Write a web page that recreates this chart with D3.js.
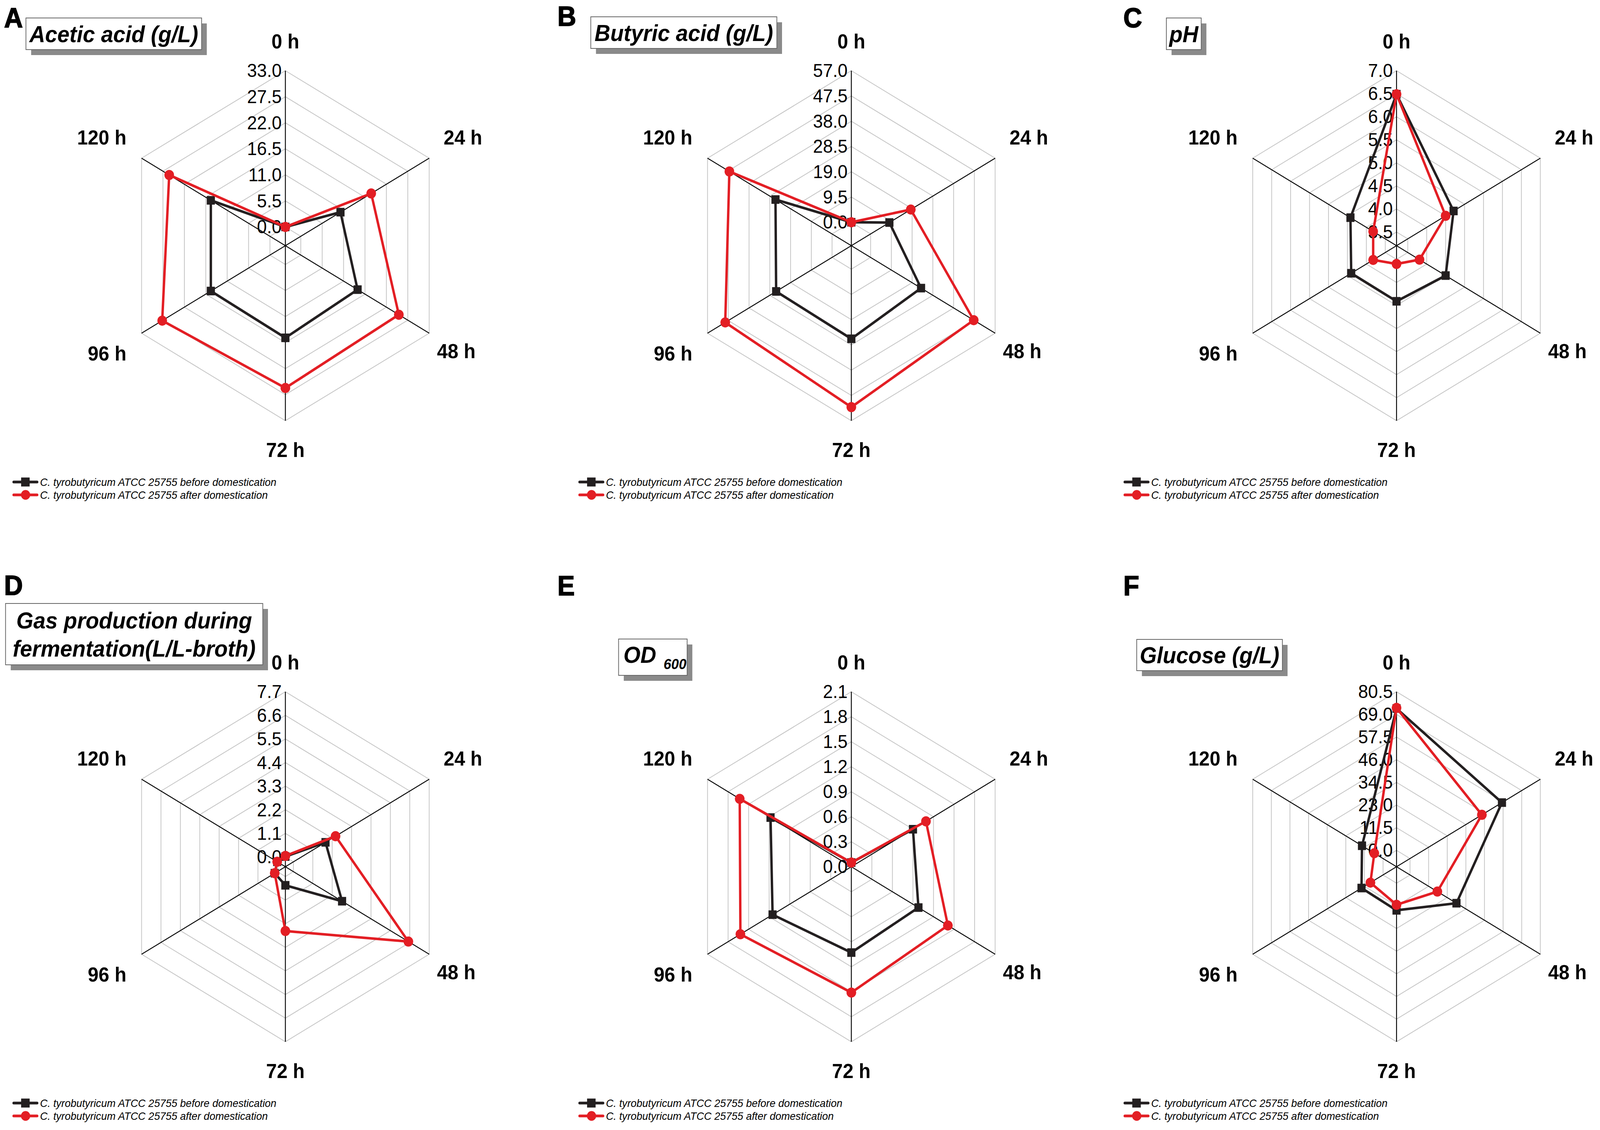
<!DOCTYPE html>
<html>
<head>
<meta charset="utf-8">
<script src="https://cdn.jsdelivr.net/npm/d3@7"></script>
<style>
  html, body { margin: 0; padding: 0; width: 100%; height: 100%; overflow: hidden; background: #fff; }
  svg { display: block; }
  text { font-family: "Liberation Sans", Arial, sans-serif; fill: #000; }
</style>
</head>
<body>
<svg id="fig" viewBox="0 0 4317 2893" preserveAspectRatio="none" width="100%" height="100%"></svg>
<script>
// axes of every radar
var hours = ["0 h", "24 h", "48 h", "72 h", "96 h", "120 h"];
var seriesNames = [
  "C. tyrobutyricum ATCC 25755 before domestication",
  "C. tyrobutyricum ATCC 25755 after domestication"
];

// values
var aceticBefore = [0, 10.2, 14.6, 15.5, 15.2, 15.2];
var aceticAfter = [0, 18.1, 25.2, 26.1, 27.7, 25.9];
var butyricBefore = [0, 8.6, 23.1, 26.2, 25.6, 25.9];
var butyricAfter = [0, 18.4, 47.2, 51.9, 48.9, 47.0];
var phBefore = [6.49, 4.71, 4.50, 4.41, 4.40, 4.42];
var phAfter = [6.49, 4.50, 3.81, 3.60, 3.82, 3.82];
var gasBefore = [0.02, 1.82, 2.76, 0.41, 0.15, 0.01];
var gasAfter = [0.05, 2.39, 6.52, 2.54, 0.15, 0.01];
var odBefore = [0.05, 0.90, 0.98, 1.03, 1.15, 1.18];
var odAfter = [0.05, 1.09, 1.41, 1.51, 1.62, 1.63];
var glucoseBefore = [72.0, 56.8, 28.7, 13.8, 13.3, 13.0];
var glucoseAfter = [72.3, 44.4, 16.9, 11.0, 7.8, 5.4];

// radial tick labels
var aceticTicks = [0, 5.5, 11, 16.5, 22, 27.5, 33];
var butyricTicks = [0, 9.5, 19, 28.5, 38, 47.5, 57];
var phTicks = [3.5, 4, 4.5, 5, 5.5, 6, 6.5, 7];
var gasTicks = [0, 1.1, 2.2, 3.3, 4.4, 5.5, 6.6, 7.7];
var odTicks = [0, 0.3, 0.6, 0.9, 1.2, 1.5, 1.8, 2.1];
var glucoseTicks = [0, 11.5, 23, 34.5, 46, 57.5, 69, 80.5];

var BLACK = "#231f20", RED = "#e31e24";
var R = 448;

var panels = [
  {letter: "A", title: ["Acetic acid (g/L)"], ticks: aceticTicks, before: aceticBefore, after: aceticAfter,
   cx: 770, cy: 629, inner: 48, box: [-700, -583, 474, 81], lp: [-759, -559]},
  {letter: "B", title: ["Butyric acid (g/L)"], ticks: butyricTicks, before: butyricBefore, after: butyricAfter,
   cx: 2297, cy: 629, inner: 60, box: [-703, -586, 502, 81], lp: [-793, -563]},
  {letter: "C", title: ["pH"], ticks: phTicks, before: phBefore, after: phAfter,
   cx: 3768, cy: 629, inner: 35, box: [-621, -583, 94, 81], lp: [-737, -559]},
  {letter: "D", title: ["Gas production during", "fermentation(L/L-broth)"], ticks: gasTicks, before: gasBefore, after: gasAfter,
   cx: 770, cy: 2219, inner: 25, box: [-755, -674, 694, 157], lp: [-759, -696]},
  {letter: "E", title: null, ticks: odTicks, before: odBefore, after: odAfter,
   cx: 2297, cy: 2219, inner: 0, box: [-628, -583, 185, 93], lp: [-793, -695]},
  {letter: "F", title: ["Glucose (g/L)"], ticks: glucoseTicks, before: glucoseBefore, after: glucoseAfter,
   cx: 3768, cy: 2219, inner: 42, box: [-701, -582, 393, 80], lp: [-737, -695]}
];

// where the hour labels sit around each radar
var labelPos = [[0, -523, "middle"], [427, -277, "start"], [409, 270, "start"],
                [0, 523, "middle"], [-429, 276, "end"], [-429, -277, "end"]];

var svg = d3.select("#fig");
svg.append("rect").attr("width", 4317).attr("height", 2893).attr("fill", "#fff");

var angle = d3.scaleLinear().domain([0, hours.length]).range([0, 2 * Math.PI]);

function drawPanel(p) {
  var g = svg.append("g").attr("transform", "translate(" + p.cx + "," + p.cy + ")");
  var r = d3.scaleLinear().domain([p.ticks[0], p.ticks[p.ticks.length - 1]]).range([p.inner, R]);

  // panel letter
  g.append("text").attr("x", p.lp[0]).attr("y", p.lp[1])
    .attr("font-size", 70).attr("font-weight", "bold")
    .attr("stroke", "#000").attr("stroke-width", 2).text(p.letter);

  // title box with shadow
  var b = p.box;
  g.append("rect").attr("x", b[0] + 14).attr("y", b[1] + 14).attr("width", b[2]).attr("height", b[3])
    .attr("fill", "#8a8a8a");
  g.append("rect").attr("x", b[0]).attr("y", b[1]).attr("width", b[2]).attr("height", b[3])
    .attr("fill", "#fff").attr("stroke", "#666").attr("stroke-width", 2);
  if (p.title) {
    var n = p.title.length;
    p.title.forEach(function(t, i) {
      g.append("text")
        .attr("x", b[0] + b[2] / 2)
        .attr("y", b[1] + b[3] / 2 + 21 + (i - (n - 1) / 2) * 72)
        .attr("text-anchor", "middle").attr("font-size", 59)
        .attr("font-weight", "bold").attr("font-style", "italic").text(t);
    });
  } else {
    var tt = g.append("text").attr("x", -615).attr("y", -522)
      .attr("font-weight", "bold").attr("font-style", "italic");
    tt.append("tspan").attr("font-size", 59).text("OD");
    tt.append("tspan").attr("font-size", 37).attr("dx", 20).attr("dy", 16).text("600");
  }

  // grid rings
  var ring = d3.lineRadial().angle(function(d, i) { return angle(i); }).curve(d3.curveLinearClosed);
  g.append("g").selectAll("path").data(p.ticks.filter(function(t) { return r(t) > 0; }))
    .enter().append("path")
    .attr("d", function(t) { return ring.radius(r(t))(hours); })
    .attr("fill", "none").attr("stroke", "#c4c4c4").attr("stroke-width", 2);

  // spokes
  g.append("g").selectAll("line").data(hours).enter().append("line")
    .attr("x1", 0).attr("y1", 0)
    .attr("x2", function(d, i) { return d3.pointRadial(angle(i), R)[0]; })
    .attr("y2", function(d, i) { return d3.pointRadial(angle(i), R)[1]; })
    .attr("stroke", "#000").attr("stroke-width", 2.4);

  // tick labels along the 0 h axis
  g.append("g").selectAll("text").data(p.ticks).enter().append("text")
    .attr("x", -10).attr("y", function(t) { return -r(t); })
    .attr("text-anchor", "end").attr("dominant-baseline", "central")
    .attr("font-size", 48).text(function(t) { return t.toFixed(1); });

  // hour labels
  g.append("g").selectAll("text").data(hours).enter().append("text")
    .attr("x", function(d, i) { return labelPos[i][0]; })
    .attr("y", function(d, i) { return labelPos[i][1]; })
    .attr("text-anchor", function(d, i) { return labelPos[i][2]; })
    .attr("dominant-baseline", "central")
    .attr("font-size", 52).attr("font-weight", "bold").text(function(d) { return d; });

  // series
  var line = d3.lineRadial()
    .angle(function(d, i) { return angle(i); })
    .radius(function(d) { return r(d); })
    .curve(d3.curveLinearClosed);

  [[p.before, BLACK, "square"], [p.after, RED, "circle"]].forEach(function(s) {
    var sg = g.append("g");
    sg.append("path").attr("d", line(s[0])).attr("fill", "none")
      .attr("stroke", s[1]).attr("stroke-width", 6.5).attr("stroke-linejoin", "round");
    var pts = s[0].map(function(v, i) { return d3.pointRadial(angle(i), r(v)); });
    if (s[2] === "square") {
      sg.selectAll("rect").data(pts).enter().append("rect")
        .attr("x", function(d) { return d[0] - 11; }).attr("y", function(d) { return d[1] - 11; })
        .attr("width", 22).attr("height", 22).attr("fill", s[1]);
    } else {
      sg.selectAll("circle").data(pts).enter().append("circle")
        .attr("cx", function(d) { return d[0]; }).attr("cy", function(d) { return d[1]; })
        .attr("r", 13).attr("fill", s[1]);
    }
  });

  // legend
  var lg = g.append("g");
  [[BLACK, "square", 605], [RED, "circle", 638]].forEach(function(s, i) {
    lg.append("line").attr("x1", -733).attr("x2", -670).attr("y1", s[2]).attr("y2", s[2])
      .attr("stroke", s[0]).attr("stroke-width", 7).attr("stroke-linecap", "round");
    if (s[1] === "square") {
      lg.append("rect").attr("x", -713).attr("y", s[2] - 11.5).attr("width", 23).attr("height", 23).attr("fill", s[0]);
    } else {
      lg.append("circle").attr("cx", -701).attr("cy", s[2]).attr("r", 12.5).attr("fill", s[0]);
    }
    lg.append("text").attr("x", -662).attr("y", s[2]).attr("dominant-baseline", "central")
      .attr("font-size", 28).attr("font-style", "italic").text(seriesNames[i]);
  });
}

panels.forEach(drawPanel);
</script>
</body>
</html>
